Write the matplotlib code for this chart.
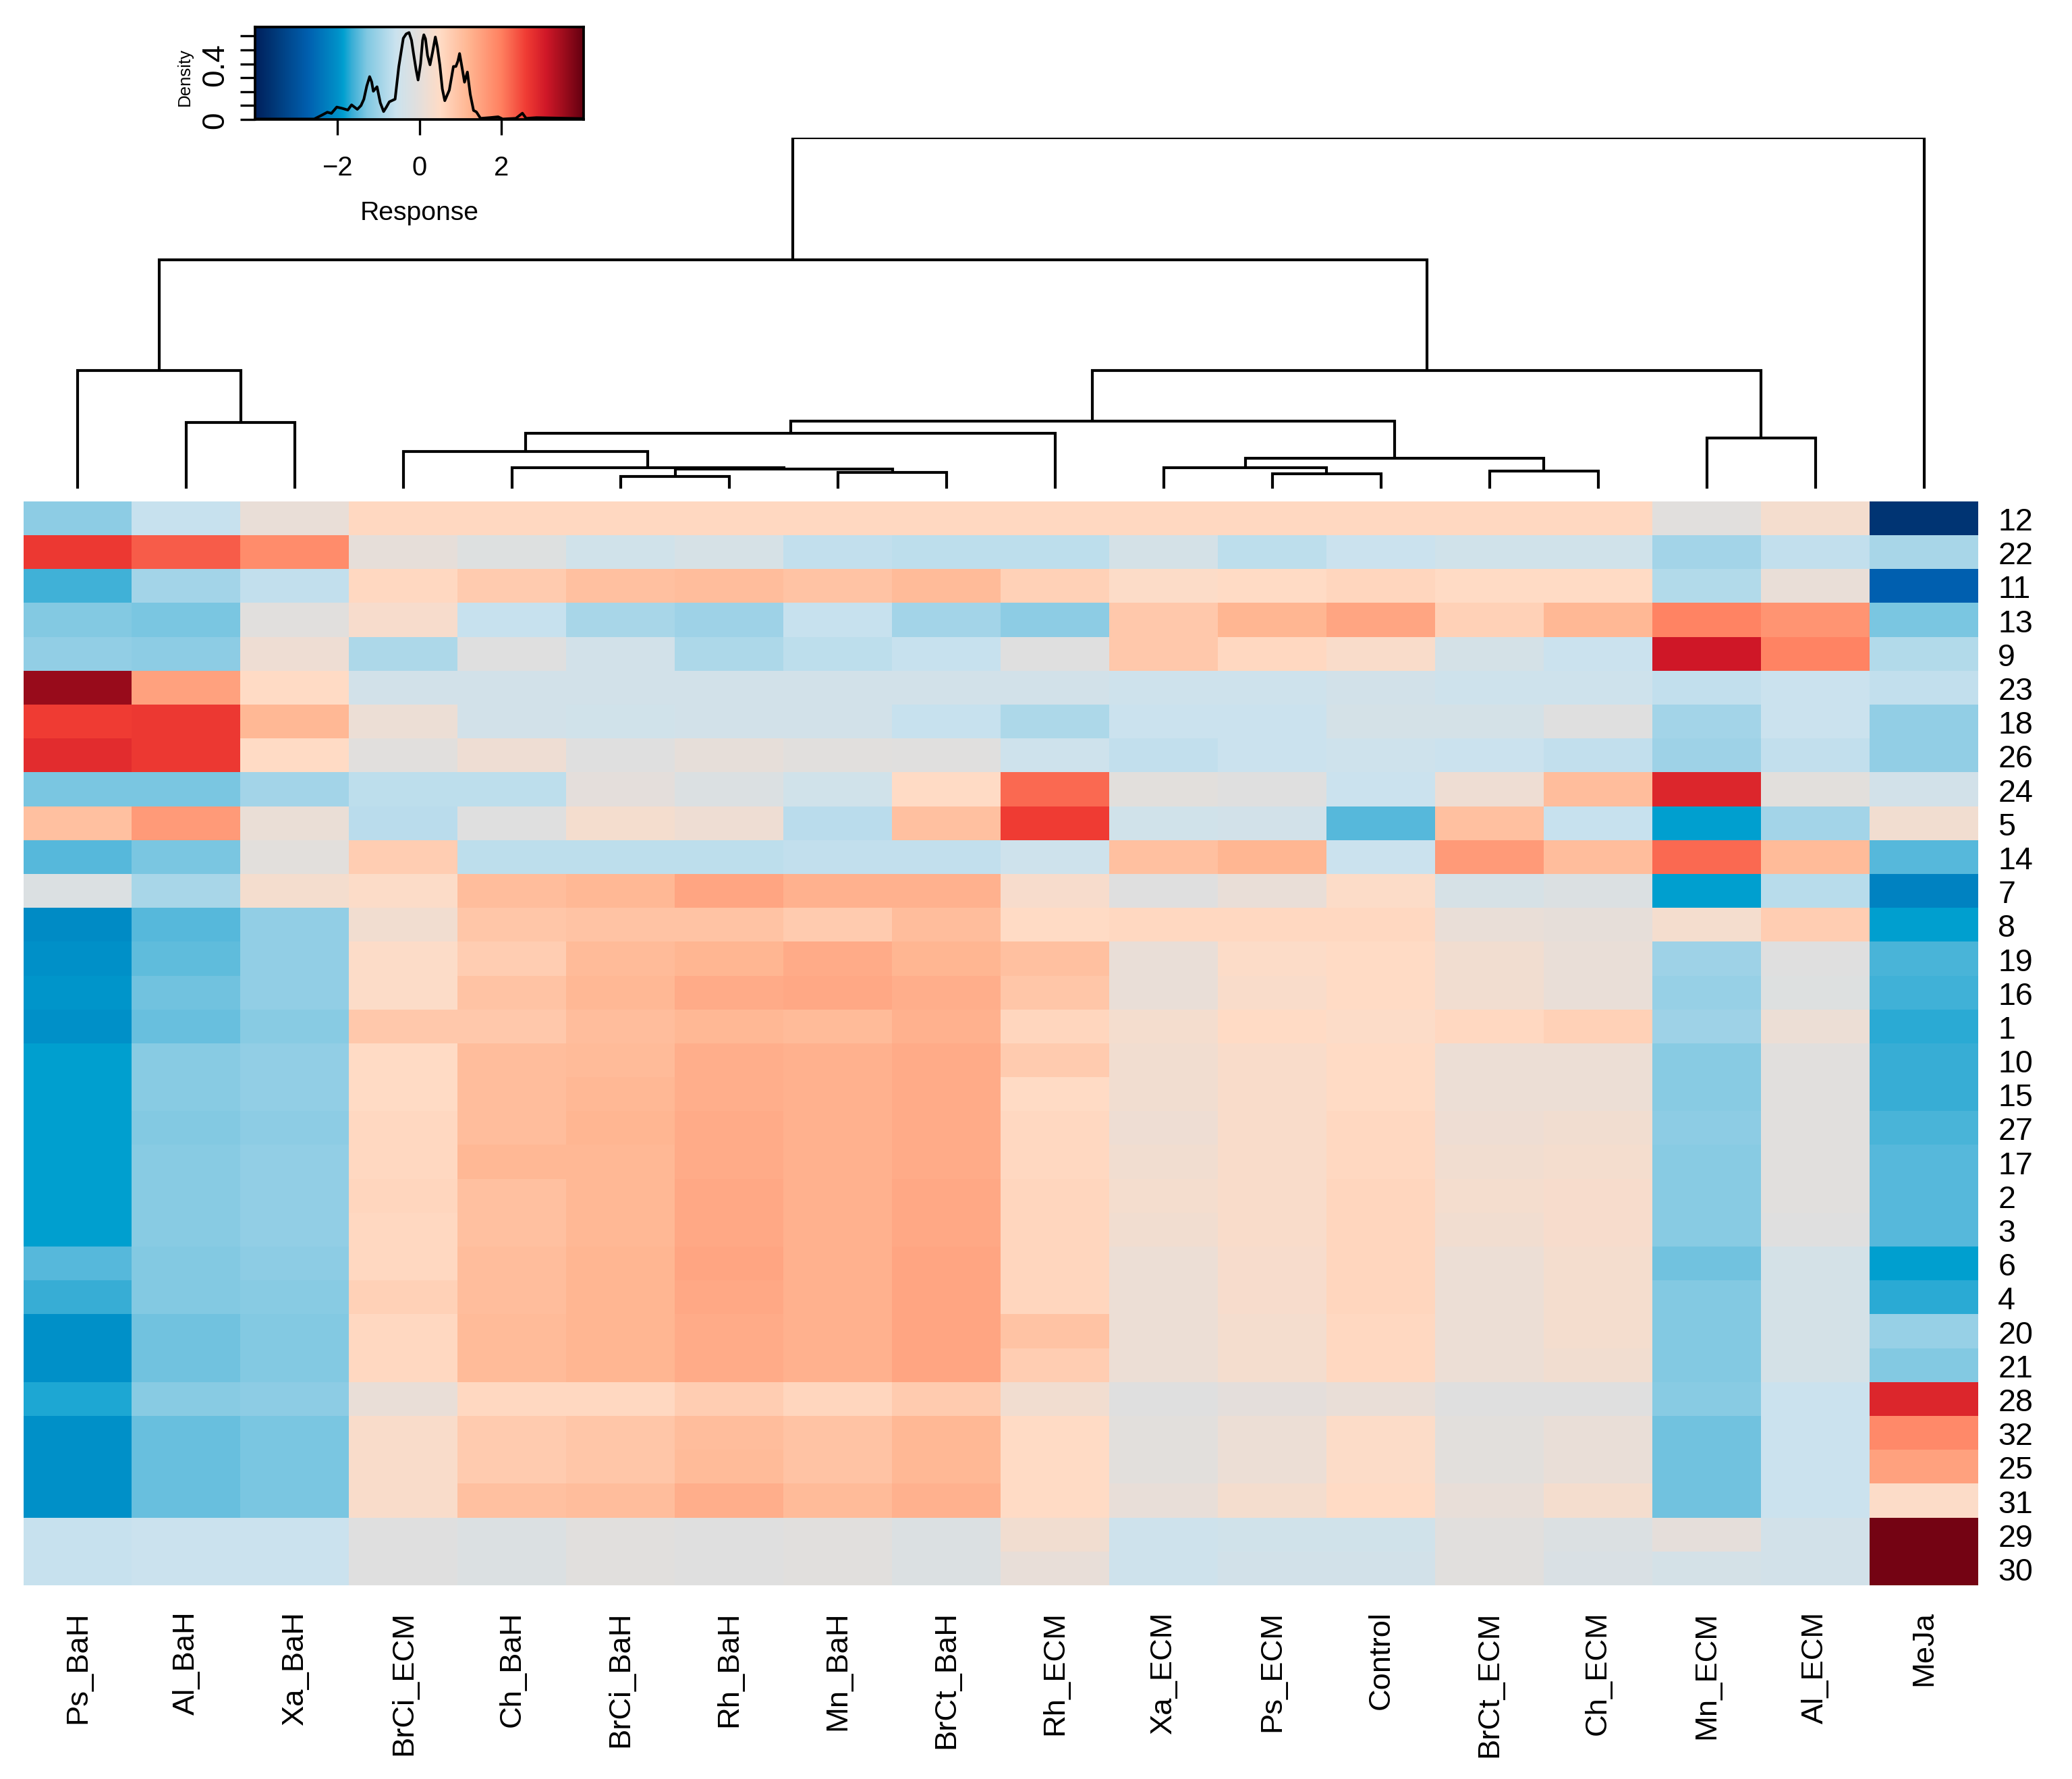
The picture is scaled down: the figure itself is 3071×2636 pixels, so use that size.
from __future__ import annotations

import matplotlib

matplotlib.use("Agg")
import matplotlib.pyplot as plt
import numpy as np
from matplotlib.colors import LinearSegmentedColormap

W, H, DPI = 3071, 2637, 300

columns = ["Ps_BaH", "Al_BaH", "Xa_BaH", "BrCi_ECM", "Ch_BaH", "BrCi_BaH", "Rh_BaH", "Mn_BaH", "BrCt_BaH",
           "Rh_ECM", "Xa_ECM", "Ps_ECM", "Control", "BrCt_ECM", "Ch_ECM", "Mn_ECM", "Al_ECM", "MeJa"]
rows = ["12", "22", "11", "13", "9", "23", "18", "26", "24", "5", "14", "7", "8", "19", "16", "1",
        "10", "15", "27", "17", "2", "3", "6", "4", "20", "21", "28", "32", "25", "31", "29", "30"]

r12 = [-1.15, -0.6, 0.1, 0.55, 0.55, 0.55, 0.55, 0.55, 0.55, 0.55, 0.55, 0.55, 0.55, 0.55, 0.55, -0.05, 0.3, -3.6]
r22 = [2.65, 2.3, 1.8, 0.05, -0.15, -0.45, -0.3, -0.65, -0.7, -0.7, -0.35, -0.7, -0.55, -0.45, -0.45, -0.95, -0.65, -0.9]
r11 = [-1.6, -0.95, -0.65, 0.55, 0.8, 1.0, 1.05, 0.95, 1.1, 0.7, 0.45, 0.5, 0.6, 0.5, 0.5, -0.8, 0.1, -2.7]
r13 = [-1.25, -1.3, -0.05, 0.35, -0.6, -0.9, -1.0, -0.6, -0.95, -1.15, 0.85, 1.2, 1.45, 0.7, 1.15, 1.95, 1.7, -1.3]
r9 = [-1.1, -1.15, 0.2, -0.85, -0.1, -0.4, -0.85, -0.7, -0.6, -0.1, 0.85, 0.55, 0.4, -0.35, -0.55, 3.1, 1.95, -0.8]
r23 = [3.55, 1.5, 0.5, -0.4, -0.4, -0.4, -0.4, -0.4, -0.4, -0.4, -0.5, -0.5, -0.4, -0.5, -0.5, -0.65, -0.55, -0.65]
r18 = [2.6, 2.65, 1.15, 0.15, -0.4, -0.45, -0.4, -0.4, -0.6, -0.85, -0.55, -0.55, -0.35, -0.35, -0.1, -0.95, -0.55, -1.1]
r26 = [2.8, 2.65, 0.5, -0.05, 0.2, -0.1, 0.05, -0.05, -0.08, -0.5, -0.65, -0.55, -0.5, -0.55, -0.65, -1.0, -0.65, -1.1]
r24 = [-1.3, -1.3, -0.95, -0.7, -0.7, 0.0, -0.2, -0.45, 0.5, 2.2, -0.02, -0.1, -0.55, 0.2, 1.05, 2.9, -0.02, -0.4]
r5 = [1.0, 1.6, 0.12, -0.72, -0.1, 0.3, 0.2, -0.72, 1.0, 2.6, -0.45, -0.4, -1.5, 1.0, -0.6, -1.85, -0.95, 0.25]
r14 = [-1.5, -1.3, -0.02, 0.75, -0.7, -0.7, -0.7, -0.65, -0.65, -0.5, 1.0, 1.2, -0.55, 1.6, 1.05, 2.2, 1.1, -1.5]
r7 = [-0.2, -0.9, 0.3, 0.45, 1.05, 1.15, 1.45, 1.25, 1.25, 0.35, -0.1, 0.1, 0.45, -0.3, -0.2, -1.85, -0.75, -2.2]
r8 = [-2.05, -1.5, -1.1, 0.25, 0.9, 0.95, 0.95, 0.8, 1.05, 0.5, 0.55, 0.55, 0.55, 0.1, 0.05, 0.3, 0.75, -1.85]
r19 = [-2.0, -1.45, -1.1, 0.45, 0.75, 1.1, 1.2, 1.35, 1.2, 1.0, 0.1, 0.45, 0.5, 0.25, 0.1, -1.0, -0.1, -1.55]
r16 = [-1.95, -1.35, -1.1, 0.45, 0.95, 1.15, 1.35, 1.4, 1.3, 0.9, 0.1, 0.4, 0.5, 0.25, 0.1, -1.05, -0.15, -1.6]
r1 = [-2.0, -1.4, -1.2, 0.85, 0.85, 1.05, 1.15, 1.1, 1.25, 0.6, 0.3, 0.5, 0.45, 0.55, 0.7, -1.0, 0.15, -1.7]
r10 = [-1.85, -1.2, -1.1, 0.5, 1.05, 1.1, 1.3, 1.25, 1.35, 0.8, 0.25, 0.4, 0.5, 0.15, 0.15, -1.2, -0.05, -1.65]
r15 = [-1.85, -1.2, -1.1, 0.5, 1.05, 1.15, 1.3, 1.25, 1.35, 0.5, 0.25, 0.4, 0.5, 0.15, 0.15, -1.2, -0.05, -1.65]
r27 = [-1.85, -1.25, -1.15, 0.55, 1.05, 1.2, 1.35, 1.25, 1.35, 0.55, 0.2, 0.4, 0.55, 0.2, 0.25, -1.15, -0.05, -1.55]
r17 = [-1.85, -1.2, -1.1, 0.55, 1.15, 1.15, 1.35, 1.25, 1.35, 0.55, 0.25, 0.4, 0.55, 0.25, 0.3, -1.2, -0.05, -1.5]
r2 = [-1.85, -1.2, -1.1, 0.6, 1.0, 1.15, 1.4, 1.25, 1.4, 0.6, 0.3, 0.4, 0.6, 0.3, 0.35, -1.2, -0.05, -1.5]
r3 = [-1.85, -1.2, -1.1, 0.55, 1.0, 1.15, 1.4, 1.25, 1.4, 0.6, 0.25, 0.4, 0.6, 0.25, 0.35, -1.2, -0.1, -1.5]
r6 = [-1.5, -1.25, -1.15, 0.55, 1.05, 1.2, 1.45, 1.25, 1.45, 0.6, 0.15, 0.35, 0.6, 0.15, 0.3, -1.35, -0.35, -1.85]
r4 = [-1.65, -1.25, -1.2, 0.7, 1.05, 1.2, 1.4, 1.25, 1.45, 0.6, 0.15, 0.35, 0.6, 0.15, 0.3, -1.25, -0.35, -1.7]
r20 = [-2.0, -1.35, -1.25, 0.55, 1.1, 1.2, 1.35, 1.25, 1.45, 0.95, 0.15, 0.3, 0.55, 0.15, 0.3, -1.25, -0.35, -1.05]
r21 = [-2.0, -1.35, -1.25, 0.55, 1.1, 1.2, 1.35, 1.25, 1.45, 0.75, 0.15, 0.3, 0.55, 0.15, 0.25, -1.25, -0.35, -1.25]
r28 = [-1.75, -1.2, -1.15, 0.1, 0.55, 0.55, 0.75, 0.6, 0.8, 0.25, -0.1, 0.0, 0.1, -0.1, -0.1, -1.2, -0.55, 2.9]
r32 = [-2.0, -1.4, -1.3, 0.4, 0.8, 0.9, 1.05, 0.95, 1.15, 0.5, -0.02, 0.15, 0.45, -0.02, 0.1, -1.35, -0.55, 1.85]
r25 = [-2.0, -1.4, -1.3, 0.4, 0.8, 0.9, 1.1, 0.95, 1.15, 0.5, -0.02, 0.15, 0.45, -0.02, 0.1, -1.35, -0.55, 1.5]
r31 = [-2.0, -1.4, -1.3, 0.4, 1.0, 1.05, 1.3, 1.1, 1.25, 0.5, 0.08, 0.3, 0.5, 0.08, 0.3, -1.35, -0.55, 0.45]
r29 = [-0.6, -0.55, -0.55, -0.1, -0.2, -0.05, -0.1, -0.05, -0.2, 0.25, -0.5, -0.45, -0.45, -0.05, -0.2, 0.02, -0.4, 3.85]
r30 = [-0.6, -0.55, -0.55, -0.1, -0.2, -0.05, -0.1, -0.05, -0.2, 0.08, -0.5, -0.4, -0.4, -0.05, -0.25, -0.35, -0.4, 3.85]

matrix = np.array([r12, r22, r11, r13, r9, r23, r18, r26, r24, r5, r14, r7, r8, r19, r16, r1,
                   r10, r15, r27, r17, r2, r3, r6, r4, r20, r21, r28, r32, r25, r31, r29, r30])

# column dendrogram, linkage style: left, right, height. nodes count on from 18
merges = [(5, 6, 9), (7, 8, 12), (18, 19, 15), (4, 20, 16), (3, 21, 28), (22, 9, 42), (11, 12, 11),
          (10, 24, 16), (13, 14, 13), (25, 26, 23), (23, 27, 51), (15, 16, 38), (28, 29, 89),
          (1, 2, 50), (0, 31, 89), (32, 30, 173), (33, 17, 265)]

density_x = [-3.99, -3.06, -2.56, -2.38, -2.24, -2.14, -2.01, -1.88, -1.74, -1.65, -1.51, -1.42, -1.35, -1.28, -1.21,
             -1.16, -1.12, -1.03, -0.95, -0.87, -0.80, -0.73, -0.59, -0.50, -0.39, -0.32, -0.25, -0.19, -0.14, -0.08,
             -0.03, 0.03, 0.08, 0.11, 0.15, 0.20, 0.26, 0.32, 0.39, 0.44, 0.50, 0.56, 0.62, 0.73, 0.83, 0.89,
             0.94, 0.98, 1.03, 1.10, 1.17, 1.24, 1.32, 1.39, 1.49, 1.71, 1.92, 2.03, 2.35, 2.51, 2.60, 2.85, 3.99]
density_y = [0.003, 0.003, 0.003, 0.03, 0.052, 0.044, 0.089, 0.08, 0.068, 0.105, 0.073, 0.10, 0.146, 0.24, 0.308,
             0.27, 0.203, 0.235, 0.12, 0.057, 0.09, 0.127, 0.146, 0.38, 0.584, 0.615, 0.625, 0.57, 0.471, 0.36,
             0.284, 0.40, 0.57, 0.609, 0.58, 0.46, 0.393, 0.48, 0.593, 0.52, 0.39, 0.22, 0.135, 0.211, 0.381, 0.381,
             0.42, 0.474, 0.39, 0.268, 0.341, 0.18, 0.065, 0.054, 0.008, 0.013, 0.019, 0.003, 0.008, 0.045, 0.008,
             0.013, 0.006]

ramp_values = [-4, -3.5, -2.7, -2, -1.85, -1.65, -1.28, -0.57, 0, 0.5, 1.2, 2, 2.6, 3.1, 4]
ramp_colors = ["#001f5c", "#003a7a", "#0060b0", "#0090c8", "#00a0d0", "#38aed6", "#80c8e2", "#cbe3ef", "#e4dfdc",
               "#ffdcc6", "#ffb692", "#ff8060", "#f03c34", "#d01828", "#640010"]
cmap = LinearSegmentedColormap.from_list(
    "response", [((v + 4) / 8, c) for v, c in zip(ramp_values, ramp_colors)], N=512
)

plt.rcParams["font.family"] = ["Liberation Sans", "DejaVu Sans"]


def px_axes(fig, left, top, right, bottom):
    return fig.add_axes([left / W, 1 - bottom / H, (right - left) / W, (bottom - top) / H])


def draw_dendrogram(ax, merge_list, n_leaves):
    pos = {i: (float(i), 0.0) for i in range(n_leaves)}
    for k, (a, b, h) in enumerate(merge_list):
        xa, ya = pos[a]
        xb, yb = pos[b]
        ax.plot([xa, xa, xb, xb], [ya, h, h, yb], color="black", lw=1.0,
                solid_joinstyle="miter", solid_capstyle="butt")
        pos[n_leaves + k] = ((xa + xb) / 2, h)


def main() -> None:
    fig = plt.figure(figsize=(W / DPI, H / DPI), dpi=DPI)

    left, right, top, bottom = 35, 2932, 744, 2350

    ax = px_axes(fig, left, top, right, bottom)
    ax.imshow(matrix, cmap=cmap, vmin=-4, vmax=4, aspect="auto", interpolation="nearest")
    ax.set_xticks(range(len(columns)), columns, rotation=90, fontsize=10.9)
    ax.set_yticks(range(len(rows)), rows, fontsize=11.2)
    ax.yaxis.tick_right()
    ax.tick_params(axis="y", length=0, pad=7)
    ax.tick_params(axis="x", length=0, pad=9)
    for spine in ax.spines.values():
        spine.set_visible(False)

    dend = px_axes(fig, left, 205, right, 725)
    draw_dendrogram(dend, merges, len(columns))
    dend.set_xlim(-0.5, len(columns) - 0.5)
    dend.set_ylim(0, 265)
    dend.axis("off")

    key = px_axes(fig, 378, 41, 865, 178)
    gradient = np.linspace(-4, 4, 512).reshape(1, -1)
    key.imshow(gradient, cmap=cmap, vmin=-4, vmax=4, aspect="auto", extent=[-4, 4, 0, 0.665])
    key.plot(density_x, density_y, color="black", lw=0.95)
    key.set_xlim(-4, 4)
    key.set_ylim(0, 0.665)
    key.set_xticks([-2, 0, 2], ["\u22122", "0", "2"], fontsize=9.6)
    key.set_yticks(np.arange(0, 0.61, 0.1), ["0", "", "", "", "0.4", "", ""], fontsize=11, rotation=90, va="center")
    key.tick_params(axis="x", length=5.6, width=0.8, pad=7)
    key.tick_params(axis="y", length=5.4, width=0.8, pad=3.5)
    for spine in key.spines.values():
        spine.set_linewidth(0.9)
    key.set_xlabel("Response", fontsize=9.4, labelpad=7)
    key.set_ylabel("Density", fontsize=6.2, labelpad=2)
    key.yaxis.set_label_coords(-0.19, 0.47)

    fig.savefig("out.png", dpi=DPI)
    plt.close(fig)


if __name__ == "__main__":
    main()
